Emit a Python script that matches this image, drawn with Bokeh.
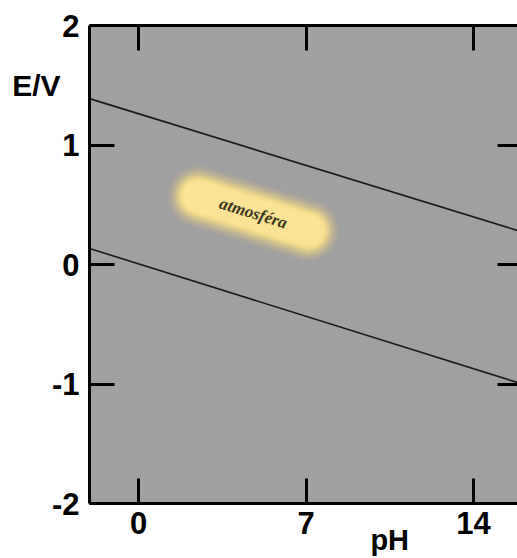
from bokeh.plotting import figure
from bokeh.models import LinearAxis, FixedTicker, Range1d
from bokeh.core.properties import value
from bokeh.embed import file_html
from bokeh.resources import INLINE
import math

# Data
ph_ticks = [0, 7, 14]
e_ticks = [-2, -1, 0, 1, 2]
e_tick_labels = {-2: "-2", -1: "-1", 0: "0", 1: "1", 2: "2"}
line_ph = [-2.05, 16.0]
upper_e = [1.388, 0.275]   # O2/H2O line
lower_e = [0.134, -0.998]  # H+/H2 line
blob_ph = [2.5, 7.1]
blob_e = [0.57, 0.285]
label_text = "atmosféra"
label_ph = 4.8
label_e = 0.43
y_title, y_title_at = "E/V", 1.5
x_title, x_title_at = "pH", 10.5

FONT = "Liberation Sans"

p = figure(width=517, height=558, output_backend="svg", toolbar_location=None,
           x_range=Range1d(-2.05, 15.84), y_range=Range1d(-2, 2),
           min_border_left=89, min_border_top=25, min_border_bottom=55,
           min_border_right=0, x_axis_location=None, y_axis_location=None)
p.background_fill_color = "#a0a0a0"
p.border_fill_color = "white"
p.outline_line_color = None
p.xgrid.visible = False
p.ygrid.visible = False

def style_axis(ax, ticks, labels=True, tick_in=25, line=True, ticks_on=True):
    ax.ticker = FixedTicker(ticks=ticks)
    ax.axis_line_width = 3
    ax.axis_line_color = "black" if line else None
    ax.major_tick_in = tick_in
    ax.major_tick_out = 0
    ax.major_tick_line_width = 3
    ax.major_tick_line_color = "black" if ticks_on else None
    ax.minor_tick_line_color = None
    if labels:
        ax.major_label_text_font = FONT
        ax.major_label_text_font_style = "bold"
        ax.major_label_text_font_size = "31px"
        ax.major_label_text_color = "black"
    else:
        ax.major_label_overrides = {t: "" for t in ticks}
        ax.major_label_standoff = 0

left = LinearAxis()
style_axis(left, e_ticks)
left.major_label_overrides = e_tick_labels
left.major_label_standoff = 10
p.add_layout(left, "left")

left_title = LinearAxis()
style_axis(left_title, [y_title_at], line=False, ticks_on=False)
left_title.major_label_overrides = {y_title_at: y_title}
left_title.major_label_text_font_size = "30px"
left_title.major_label_standoff = -12
p.add_layout(left_title, "left")

bottom = LinearAxis()
style_axis(bottom, ph_ticks)
bottom.major_label_standoff = 8
p.add_layout(bottom, "below")

bottom_title = LinearAxis()
style_axis(bottom_title, [x_title_at], line=False, ticks_on=False)
bottom_title.major_label_overrides = {x_title_at: x_title}
bottom_title.major_label_text_font_size = "29px"
bottom_title.major_label_standoff = -13
p.add_layout(bottom_title, "below")

top = LinearAxis()
style_axis(top, ph_ticks, labels=False)
p.add_layout(top, "above")

right = LinearAxis()
style_axis(right, [-1, 0, 1], labels=False, tick_in=20, line=False)
p.add_layout(right, "right")

# Stability lines
p.line(line_ph, upper_e, line_color="#1a1a1a", line_width=1.6)
p.line(line_ph, lower_e, line_color="#1a1a1a", line_width=1.6)

# Blurred yellow capsule
for w, a, c in [(62, 0.08, "#f0d080"), (58, 0.10, "#f2d47f"), (54, 0.14, "#f3d680"),
                (50, 0.20, "#f5d984"), (46, 0.28, "#f6db88"), (42, 0.40, "#f7dd8b"),
                (38, 0.6, "#f8df8e"), (34, 0.85, "#f9e191"), (30, 1.0, "#fae396")]:
    p.line(blob_ph, blob_e, line_color=c, line_width=w, line_alpha=a, line_cap="round")

angle = math.atan((blob_e[1] - blob_e[0]) / (blob_ph[1] - blob_ph[0]) * (119.5 / 23.93))
p.text([label_ph], [label_e], text=[label_text], angle=angle,
       text_font=value("Liberation Serif"), text_font_style="bold italic",
       text_font_size="17px", text_color="#3a3620",
       text_align="center", text_baseline="middle")

open("out.html", "w").write(file_html(p, INLINE))
